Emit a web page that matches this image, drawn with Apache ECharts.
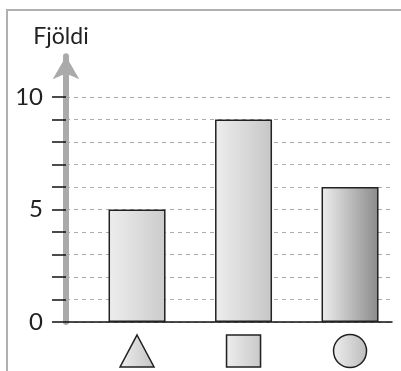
<!DOCTYPE html>
<html>
<head>
<meta charset="utf-8">
<script src="https://cdn.jsdelivr.net/npm/echarts@6/dist/echarts.min.js"></script>
<style>
  html, body { margin: 0; padding: 0; background: #fff; }
  #chart { width: 401px; height: 371px; }
</style>
</head>
<body>
<div id="chart"></div>
<script>
// gögn
const categories = ["triangle", "rect", "circle"];
const counts = [5, 9, 6];
const yTicks = [0, 1, 2, 3, 4, 5, 6, 7, 8, 9, 10];
const yLabels = [0, 5, 10];
const barRightColors = ["#cbcbcb", "#c6c6c6", "#8a8a8a"];
const iconRightColors = ["#c4c4c4", "#c8c8c8", "#bcbcbc"];

const grad = (right) => ({
  type: "linear",
  x: 0, y: 0, x2: 1, y2: 0,
  colorStops: [
    { offset: 0, color: "#eeeeee" },
    { offset: 1, color: right },
  ],
});

const barData = categories.map((c, i) => ({
  value: [i + 1, counts[i]],
  itemStyle: { color: grad(barRightColors[i]) },
}));

const iconData = categories.map((c, i) => ({
  value: [i + 1, 0.5],
  symbol: c,
  symbolSize: c === "circle" ? [33, 33] : [34, 32],
  itemStyle: { color: grad(iconRightColors[i]) },
}));

const myChart = echarts.init(document.getElementById("chart"));
const option = {
  animation: false,
  textStyle: { fontFamily: "Lato" },
  graphic: [
    {
      type: "polyline",
      shape: { points: [[7, 371], [7, 10], [401, 10]] },
      style: { stroke: "#b0b0b0", lineWidth: 2, fill: null },
      z: 0,
    },
  ],
  grid: [
    { left: 66, right: 9, top: 56.3, bottom: 49 },
    { left: 66, right: 9, top: 334, height: 34 },
  ],
  xAxis: [
    {
      type: "value",
      gridIndex: 0,
      min: 0.333,
      max: 3.394,
      axisLine: { lineStyle: { color: "#111", width: 1.5 } },
      axisTick: { show: false },
      axisLabel: { show: false },
      splitLine: { show: false },
    },
    {
      type: "value",
      gridIndex: 1,
      min: 0.333,
      max: 3.394,
      show: false,
    },
  ],
  yAxis: [
    {
      type: "value",
      gridIndex: 0,
      min: 0,
      max: 11.81,
      name: "Fjöldi",
      nameLocation: "end",
      nameGap: 8,
      nameTextStyle: {
        fontSize: 23,
        color: "#222",
        fontFamily: "Lato",
        padding: [0, 10, 0, 0],
      },
      axisLine: {
        show: true,
        symbol: ["none", "arrow"],
        symbolSize: [20, 23],
        lineStyle: { color: "#aaaaaa", width: 6 },
      },
      axisTick: {
        show: true,
        length: 14,
        customValues: yTicks,
        lineStyle: { color: "#111", width: 1.5 },
      },
      axisLabel: {
        customValues: yLabels,
        margin: 23,
        fontSize: 24,
        color: "#222",
        fontFamily: "Lato",
      },
      splitLine: {
        show: true,
        lineStyle: { color: "#aaaaaa", width: 1, type: [4, 4] },
      },
    },
    {
      type: "value",
      gridIndex: 1,
      min: 0,
      max: 1,
      show: false,
    },
  ],
  series: [
    {
      type: "bar",
      xAxisIndex: 0,
      yAxisIndex: 0,
      barWidth: 57,
      data: barData,
      itemStyle: { borderColor: "#222", borderWidth: 1.5 },
      z: 3,
    },
    {
      type: "scatter",
      xAxisIndex: 1,
      yAxisIndex: 1,
      data: iconData,
      itemStyle: { borderColor: "#222", borderWidth: 1.5, opacity: 1 },
    },
  ],
};
myChart.setOption(option, true);
</script>
</body>
</html>
